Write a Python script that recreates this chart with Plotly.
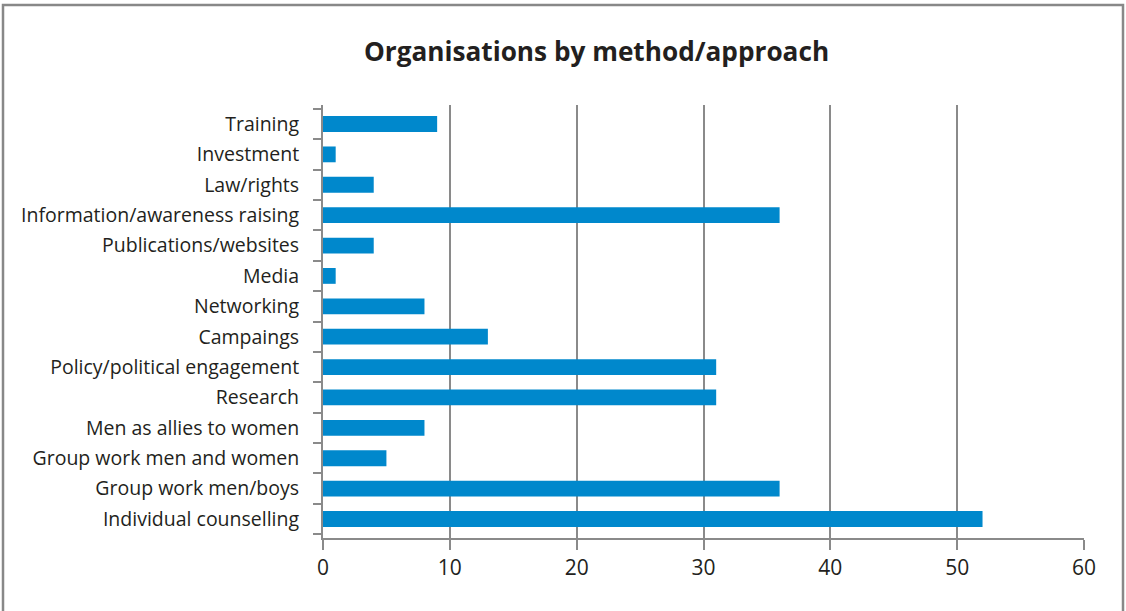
import plotly.graph_objects as go

categories = [
    "Training", "Investment", "Law/rights", "Information/awareness raising",
    "Publications/websites", "Media", "Networking", "Campaings",
    "Policy/political engagement", "Research", "Men as allies to women",
    "Group work men and women", "Group work men/boys", "Individual counselling",
]
values = [9, 1, 4, 36, 4, 1, 8, 13, 31, 31, 8, 5, 36, 52]
x_ticks = [0, 10, 20, 30, 40, 50, 60]

W, H = 1126, 611
L, R, T, B = 323, 42, 105, 73
pw = W - L - R
ph = H - T - B
GRAY = "#8a8a8a"

fig = go.Figure(go.Bar(
    x=values, y=categories, orientation="h",
    marker=dict(color="#0088cc", line=dict(width=0)),
    width=0.52,
))

fig.update_layout(
    width=W, height=H,
    margin=dict(l=L, r=R, t=T, b=B, pad=0),
    paper_bgcolor="white", plot_bgcolor="white",
    showlegend=False,
    font=dict(family="Open Sans, Noto Sans, sans-serif", color="#231f20"),
    title=dict(
        text="<b>Organisations by method/approach</b>",
        x=596.5 / W, xref="container", xanchor="center",
        y=1 - 52 / H, yref="container", yanchor="middle",
        font=dict(size=26.2, color="#231f20"),
    ),
    xaxis=dict(
        range=[0, 60], tickvals=x_ticks, ticktext=[str(v) for v in x_ticks],
        showgrid=True, gridcolor=GRAY, gridwidth=2,
        showline=True, linecolor=GRAY, linewidth=2,
        ticks="outside", ticklen=10, tickcolor=GRAY, tickwidth=2,
        tickfont=dict(size=21, color="#231f20"),
        zeroline=False, fixedrange=True,
    ),
    yaxis=dict(
        categoryorder="array", categoryarray=categories[::-1],
        autorange=False, range=[-0.625, len(categories) - 0.375],
        showline=True, linecolor=GRAY, linewidth=2,
        ticks="outside", ticklen=8, tickcolor=GRAY, tickwidth=2,
        tickson="boundaries", showgrid=False,
        tickfont=dict(size=19.5, color="#231f20"),
        ticklabelstandoff=18,
        fixedrange=True,
    ),
    shapes=[dict(
        type="rect", xref="paper", yref="paper",
        x0=(3 - L) / pw, x1=(1123 - L) / pw,
        y0=(H - B - 620) / ph, y1=(H - B - 5) / ph,
        line=dict(color="#888888", width=2.5), fillcolor="rgba(0,0,0,0)",
        layer="below",
    )],
)

fig.write_html(
    "out.html",
    config={"displayModeBar": False, "staticPlot": True},
    post_script="document.body.style.margin='0';document.body.style.overflow='hidden';",
)
